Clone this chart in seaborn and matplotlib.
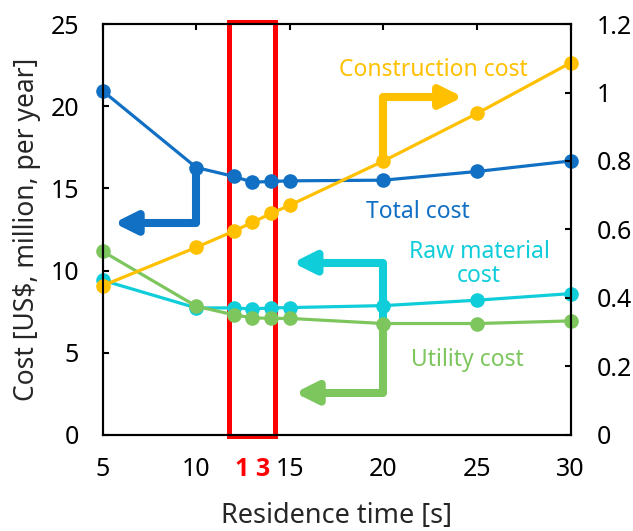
import matplotlib
matplotlib.use("Agg")
import matplotlib.pyplot as plt
import matplotlib.transforms as mtransforms
from matplotlib.patches import Rectangle
import seaborn as sns

# -------------------------
# Data
# -------------------------
residence_time = [5, 10, 12, 13, 14, 15, 20, 25, 30]
total_cost = [20.93, 16.27, 15.73, 15.38, 15.42, 15.46, 15.50, 16.03, 16.67]
raw_material_cost = [9.41, 7.73, 7.73, 7.67, 7.73, 7.75, 7.87, 8.20, 8.60]
utility_cost = [11.17, 7.83, 7.31, 7.13, 7.09, 7.09, 6.78, 6.78, 6.94]
construction_cost = [0.436, 0.548, 0.595, 0.621, 0.647, 0.671, 0.80, 0.939, 1.087]

x_ticks = [5, 10, 15, 20, 25, 30]
left_ticks = [0, 5, 10, 15, 20, 25]
right_ticks = [0, 0.2, 0.4, 0.6, 0.8, 1.0, 1.2]
right_tick_labels = ["0", "0.2", "0.4", "0.6", "0.8", "1", "1.2"]
optimum_time = 13

BLUE = "#1170C4"
CYAN = "#10CDDA"
GREEN = "#7DC65E"
ORANGE = "#FFC000"
RED = "#FF0000"

sns.set_style("white")
plt.rcParams["font.family"] = ["Noto Sans", "DejaVu Sans"]

fig = plt.figure(figsize=(6.33, 5.31), dpi=100)
ax = fig.add_axes([0.1622, 0.1808, 0.7394, 0.774])
ax2 = ax.twinx()

line_kw = dict(marker="o", markersize=10.5, linewidth=2.3,
               markeredgewidth=0, clip_on=False, zorder=3)

sns.lineplot(x=residence_time, y=raw_material_cost, ax=ax, color=CYAN, **line_kw)
sns.lineplot(x=residence_time, y=utility_cost, ax=ax, color=GREEN, **line_kw)
sns.lineplot(x=residence_time, y=total_cost, ax=ax, color=BLUE, **line_kw)
sns.lineplot(x=residence_time, y=construction_cost, ax=ax2, color=ORANGE, **line_kw)

ax.set_xlim(5, 30)
ax.set_ylim(0, 25)
ax2.set_ylim(0, 1.2)
ax.set_xticks(x_ticks)
ax.set_yticks(left_ticks)
ax2.set_yticks(right_ticks)
ax2.set_yticklabels(right_tick_labels)

for a in (ax, ax2):
    for s in a.spines.values():
        s.set_linewidth(1.5)
        s.set_color("black")
        s.set_zorder(5)
ax.tick_params(axis="both", direction="in", length=4.5, width=1.5,
               labelsize=18, colors="black", top=True, right=False)
ax.tick_params(axis="x", pad=16)
ax.tick_params(axis="y", pad=17)
ax2.tick_params(axis="y", direction="in", length=4.5, width=1.5,
                labelsize=18, colors="black", pad=19)

ax.set_xlabel("Residence time [s]", fontsize=19.5, labelpad=14)
ax.set_ylabel("Cost [US$, million, per year]", fontsize=19, labelpad=7)

# highlighted optimum
ax.add_patch(Rectangle((11.75, -0.05), 2.45, 25.15, fill=False,
                       edgecolor=RED, linewidth=3.6, clip_on=False, zorder=2))
trans = mtransforms.blended_transform_factory(ax.transData, ax.transAxes)
ax.text(optimum_time, -0.085, "1 3", transform=trans, color=RED,
        fontsize=18, fontweight="bold", family=["Open Sans", "DejaVu Sans"],
        ha="center", va="center")

# elbow arrows pointing to the axis each series uses
def elbow_arrow(start, end, color):
    ax.annotate("", xy=end, xytext=start,
                arrowprops=dict(arrowstyle="-|>,head_length=0.8,head_width=0.4",
                                connectionstyle="angle,angleA=90,angleB=0,rad=0",
                                color=color, lw=5.8, shrinkA=0, shrinkB=0,
                                mutation_scale=16),
                zorder=2.5)

elbow_arrow((10, 16.3), (5.6, 12.9), BLUE)
elbow_arrow((20, 6.6), (15.15, 10.48), CYAN)
elbow_arrow((20, 6.8), (15.27, 2.57), GREEN)
elbow_arrow((20, 16.67), (24.24, 20.56), ORANGE)

ax.text(22.65, 22.2, "Construction cost", color=ORANGE, fontsize=16.5,
        ha="center", va="center")
ax.text(21.85, 13.59, "Total cost", color=BLUE, fontsize=16.5,
        ha="center", va="center")
ax.text(25.1, 10.4, "Raw material\ncost", color=CYAN, fontsize=16.5,
        ha="center", va="center", linespacing=1.0)
ax.text(24.5, 4.56, "Utility cost", color=GREEN, fontsize=16.5,
        ha="center", va="center")

fig.savefig("out.png", dpi=100)
